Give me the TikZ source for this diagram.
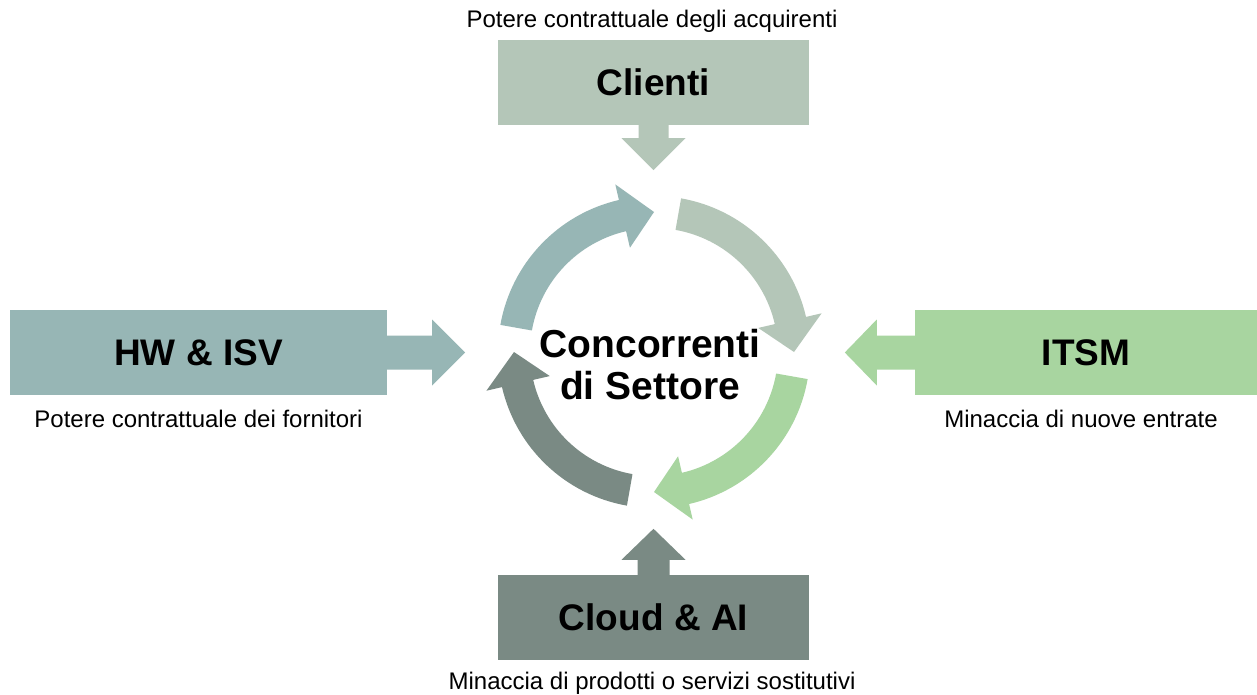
\documentclass[tikz,border=0pt]{standalone}
\usepackage{fontspec}
\setmainfont{Liberation Sans}
\usetikzlibrary{calc}
\definecolor{cHW}{HTML}{97B6B5}
\definecolor{cCL}{HTML}{B4C6B8}
\definecolor{cIT}{HTML}{A8D5A0}
\definecolor{cCD}{HTML}{7A8A84}
\tikzset{
  forcebox/.style={minimum height=85pt, inner sep=0pt, font=\bfseries\fontsize{37}{40}\selectfont, text=black},
  captext/.style={anchor=base, inner sep=0pt, font=\fontsize{24}{28}\selectfont, text=black},
}
\newcommand{\ringarrow}[2]{%
  \fill[#2] (#1+80:156) arc[start angle=#1+80, end angle=#1+13, radius=156]
    -- (#1+13:172) -- (#1:140) -- (#1+13:107) -- (#1+13:124)
    arc[start angle=#1+13, end angle=#1+80, radius=124] -- cycle;}
\begin{document}
\begin{tikzpicture}[x=1pt, y=-1pt]
\useasboundingbox[fill=white] (0,0) rectangle (1257,695);
% boxes
\node[forcebox, fill=cCL, minimum width=311pt] (cl) at (653.5,82.5) {Clienti};
\node[forcebox, fill=cHW, minimum width=377pt] (hw) at (198.5,352.5) {HW \& ISV};
\node[forcebox, fill=cIT, minimum width=342pt] (it) at (1086,352.5) {ITSM};
\node[forcebox, fill=cCD, minimum width=311pt] (cd) at (653.5,617.5) {Cloud \& AI};
% captions
\node[captext] (clcap) at (652,28) {Potere contrattuale degli acquirenti};
\node[captext] (hwcap) at (198.5,427) {Potere contrattuale dei fornitori};
\node[captext] (itcap) at (1081,427) {Minaccia di nuove entrate};
\node[captext] (cdcap) at (652,689) {Minaccia di prodotti o servizi sostitutivi};
% straight arrows
\fill[cCL] (cl.south) ++(-15,0) -- ++(0,13) -- ++(-17,0) -- ++(32,32) -- ++(32,-32) -- ++(-17,0) -- ++(0,-13) -- cycle;
\fill[cHW] (hw.east) ++(0,-17) -- ++(45,0) -- ++(0,-16) -- ++(33,33) -- ++(-33,33) -- ++(0,-16) -- ++(-45,0) -- cycle;
\fill[cIT] (it.west) ++(0,-17) -- ++(-38,0) -- ++(0,-16) -- ++(-32,33) -- ++(32,33) -- ++(0,-16) -- ++(38,0) -- cycle;
\fill[cCD] (cd.north) ++(-16,0) -- ++(0,-15) -- ++(-16,0) -- ++(32,-31) -- ++(32,31) -- ++(-16,0) -- ++(0,15) -- cycle;
% ring
\coordinate (O) at (654,352);
\begin{scope}[shift={(O)}, x=1pt, y=1pt]
\ringarrow{90}{cHW}
\ringarrow{0}{cCL}
\ringarrow{-90}{cIT}
\ringarrow{180}{cCD}
\end{scope}
\node[inner sep=0pt, align=center, font=\bfseries\fontsize{39}{42}\selectfont] (core) at (650,365) {Concorrenti\\di Settore};
\end{tikzpicture}
\end{document}
